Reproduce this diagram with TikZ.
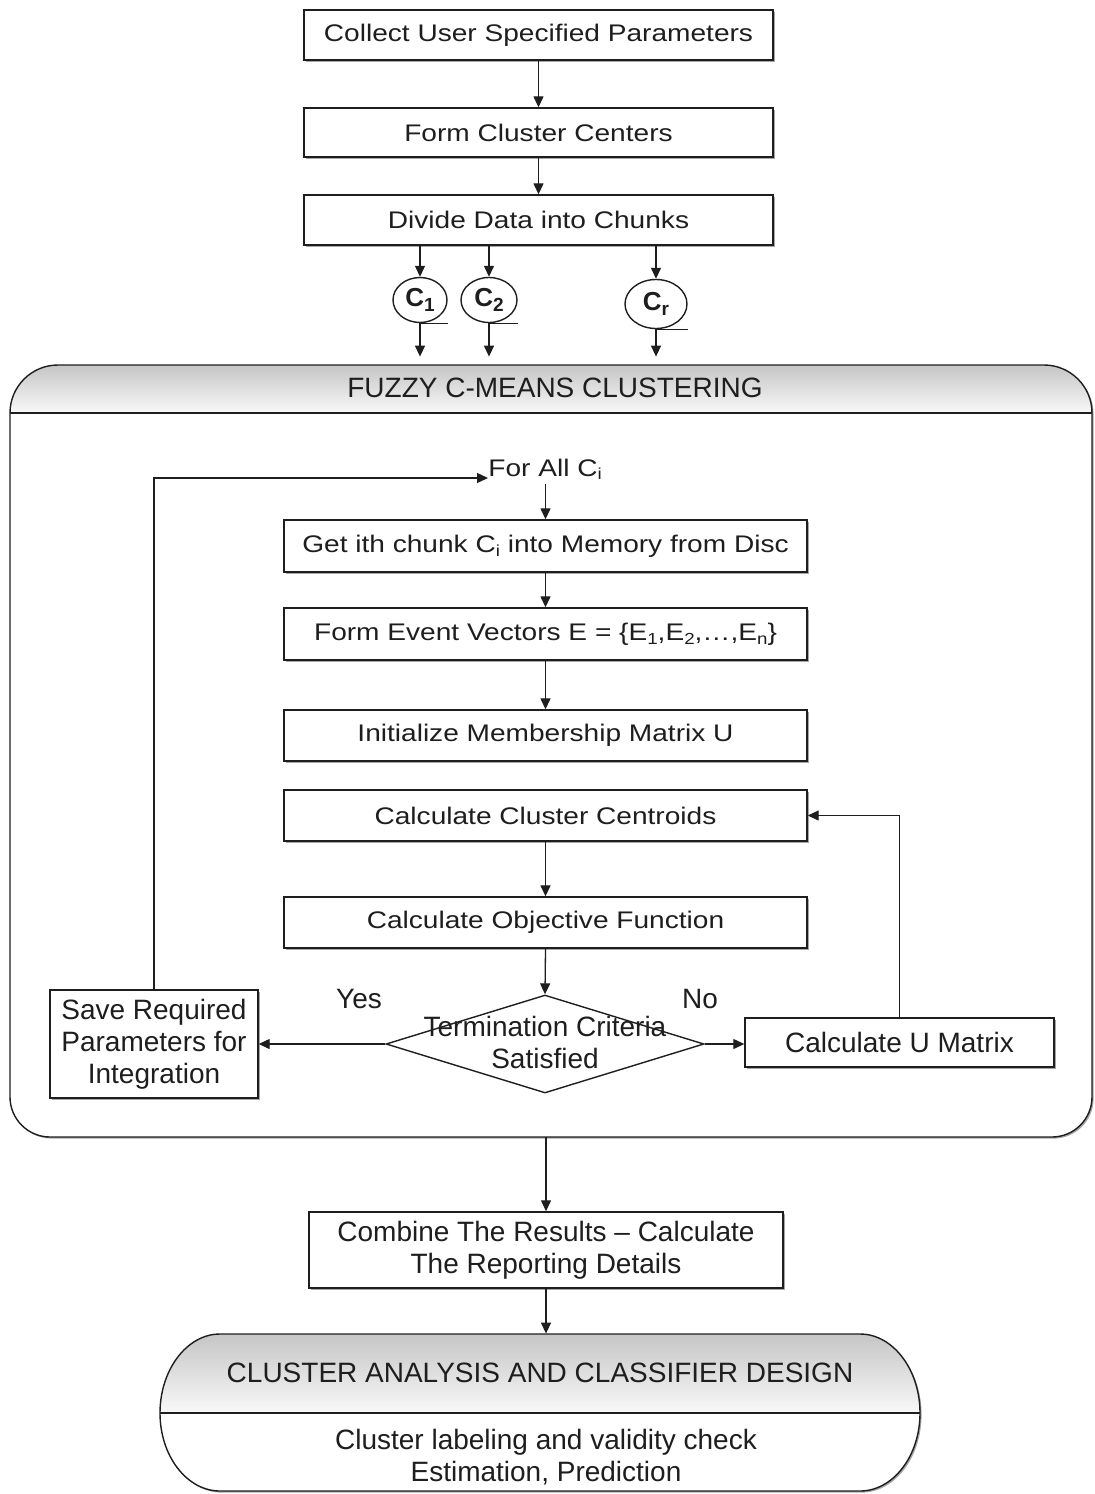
\documentclass[tikz,border=0pt]{standalone}
\usepackage{fontspec}
\setmainfont{Liberation Sans}
\newfontfamily\widesans[FakeStretch=1.17]{Liberation Sans}
\usetikzlibrary{arrows.meta,shapes.geometric,fit,shadows}
\definecolor{ink}{HTML}{1E1E1E}
\newcommand\lowidx[1]{\raisebox{-0.3ex}{\fontsize{8}{8}\selectfont #1}}
\newcommand\tapeidx[1]{\raisebox{-0.35ex}{\fontsize{9.5}{9.5}\selectfont #1}}

\tikzset{
  inkline/.style={draw=ink, line width=0.7pt},
  arr/.style={draw=ink, line width=0.65pt, -{Triangle[length=5.5pt,width=5pt]}},
  box/.style={rectangle, draw=ink, line width=0.7pt, fill=white, inner sep=0pt,
    drop shadow={shadow xshift=0.8pt, shadow yshift=-0.8pt, fill=black, opacity=0.35}},
  size/.style 2 args={minimum width=#1, minimum height=#2},
  widetxt/.style={font=\widesans\fontsize{12}{14}\selectfont, text=ink, align=center},
  narrowtxt/.style={font=\fontsize{14}{16}\selectfont, text=ink, align=center},
  tape/.style={ellipse, draw=ink, line width=0.7pt, fill=white, inner sep=0pt,
    font=\bfseries\fontsize{13}{15}\selectfont, text=ink},
  headshade/.style={top color=gray!45, bottom color=gray!5},
}

\begin{document}
\begin{tikzpicture}[x=0.5pt,y=-0.5pt]
\useasboundingbox (0,0) rectangle (1095,1494);

% ---------- container: fuzzy c-means clustering ----------
\fill[black!35, shift={(1.6,1.6)}] (10,413) .. controls (10,386.5) and (31.5,365) .. (58,365)
  -- (1044,365) .. controls (1070.5,365) and (1092,386.5) .. (1092,413)
  -- (1092,1097) .. controls (1092,1119) and (1074,1137) .. (1052,1137)
  -- (50,1137) .. controls (28,1137) and (10,1119) .. (10,1097) -- cycle;
\fill[white] (10,413) .. controls (10,386.5) and (31.5,365) .. (58,365)
  -- (1044,365) .. controls (1070.5,365) and (1092,386.5) .. (1092,413)
  -- (1092,1097) .. controls (1092,1119) and (1074,1137) .. (1052,1137)
  -- (50,1137) .. controls (28,1137) and (10,1119) .. (10,1097) -- cycle;
\shade[headshade] (10,413) .. controls (10,386.5) and (31.5,365) .. (58,365)
  -- (1044,365) .. controls (1070.5,365) and (1092,386.5) .. (1092,413) -- cycle;
\draw[inkline] (10,413) -- (1092,413);
\draw[inkline] (10,413) .. controls (10,386.5) and (31.5,365) .. (58,365)
  -- (1044,365) .. controls (1070.5,365) and (1092,386.5) .. (1092,413)
  -- (1092,1097) .. controls (1092,1119) and (1074,1137) .. (1052,1137)
  -- (50,1137) .. controls (28,1137) and (10,1119) .. (10,1097) -- cycle;
\node[fit={(10,365) (1092,1137)}, inner sep=0pt] (fcm) {};
\node[narrowtxt] (fcmtitle) at (555,388) {FUZZY C-MEANS CLUSTERING};

% ---------- container: cluster analysis ----------
\fill[black!35, shift={(1.6,1.6)}] (160,1413) .. controls (160,1369.8) and (186.9,1334) .. (220,1334)
  -- (860,1334) .. controls (893.1,1334) and (920,1369.8) .. (920,1413)
  .. controls (920,1456) and (893.1,1491) .. (860,1491)
  -- (220,1491) .. controls (186.9,1491) and (160,1456) .. (160,1413) -- cycle;
\fill[white] (160,1413) .. controls (160,1369.8) and (186.9,1334) .. (220,1334)
  -- (860,1334) .. controls (893.1,1334) and (920,1369.8) .. (920,1413)
  .. controls (920,1456) and (893.1,1491) .. (860,1491)
  -- (220,1491) .. controls (186.9,1491) and (160,1456) .. (160,1413) -- cycle;
\shade[headshade] (160,1413) .. controls (160,1369.8) and (186.9,1334) .. (220,1334)
  -- (860,1334) .. controls (893.1,1334) and (920,1369.8) .. (920,1413) -- cycle;
\draw[inkline] (160,1413) -- (920,1413);
\draw[inkline] (160,1413) .. controls (160,1369.8) and (186.9,1334) .. (220,1334)
  -- (860,1334) .. controls (893.1,1334) and (920,1369.8) .. (920,1413)
  .. controls (920,1456) and (893.1,1491) .. (860,1491)
  -- (220,1491) .. controls (186.9,1491) and (160,1456) .. (160,1413) -- cycle;
\node[fit={(160,1334) (920,1491)}, inner sep=0pt] (cad) {};
\node[narrowtxt] (cadtitle) at (540,1373) {CLUSTER ANALYSIS AND CLASSIFIER DESIGN};
\node[narrowtxt] (cadbody) at (546,1457) {Cluster labeling and validity check\\Estimation, Prediction};

% ---------- preparation steps ----------
\node[box, widetxt, size={234.5pt}{25pt}] (collect) at (538.5,35) {Collect User Specified Parameters};
\node[box, widetxt, size={234.5pt}{24.5pt}] (centers) at (538.5,132.5) {Form Cluster Centers};
\node[box, widetxt, size={234.5pt}{25pt}] (divide) at (538.5,220) {Divide Data into Chunks};

\node[tape, minimum width=27pt, minimum height=22.5pt] (c1) at (420,300) {C\tapeidx{1}};
\node[tape, minimum width=28pt, minimum height=22.5pt] (c2) at (489,300) {C\tapeidx{2}};
\node[tape, minimum width=31pt, minimum height=24.5pt] (cr) at (656,304) {C\tapeidx{r}};
\foreach \c in {c1,c2,cr} {
  \draw[inkline] (\c.south) -- (\c.south -| \c.east);
  \draw[arr] (\c |- divide.south) -- (\c.north);
  \draw[arr, shorten >=4pt] (\c.south) -- (\c |- fcm.north);
}
\draw[arr] (collect.south) -- (centers.north);
\draw[arr] (centers.south) -- (divide.north);

% ---------- clustering loop ----------
\node[widetxt, anchor=base west, inner sep=0pt] (forall) at (488,476) {For All C\lowidx{i}};
\node[box, widetxt, size={261.5pt}{26pt}] (getchunk) at (545.5,546) {Get ith chunk C\lowidx{i} into Memory from Disc};
\node[box, widetxt, size={261.5pt}{26pt}] (events) at (545.5,634) {Form Event Vectors E = \{E\lowidx{1},E\lowidx{2},\dots,E\lowidx{n}\}};
\node[box, widetxt, size={261.5pt}{25.5pt}] (initu) at (545.5,735.5) {Initialize Membership Matrix U};
\node[box, widetxt, size={261.5pt}{25.5pt}] (centroids) at (545.5,815.5) {Calculate Cluster Centroids};
\node[box, widetxt, size={261.5pt}{25.5pt}] (objective) at (545.5,922.5) {Calculate Objective Function};
\node[diamond, draw=ink, line width=0.7pt, fill=white, inner sep=0pt,
      minimum width=159pt, minimum height=49pt] (term) at (545,1044) {};
\node[narrowtxt] (termtxt) at (545,1042) {Termination Criteria\\Satisfied};
\node[box, narrowtxt, size={104pt}{54pt}] (save) at (154,1044) {Save Required\\Parameters for\\Integration};
\node[box, narrowtxt, size={154.5pt}{24.5pt}] (calcu) at (899.5,1042.5) {Calculate U Matrix};
\node[narrowtxt] (yes) at (359,999) {Yes};
\node[narrowtxt] (no) at (700,999) {No};

\draw[arr, shorten <=2pt] (getchunk.north |- forall.south) -- (getchunk.north);
\draw[arr] (getchunk.south) -- (events.north);
\draw[arr] (events.south) -- (initu.north);
\draw[arr] (centroids.south) -- (objective.north);
\draw[arr] (objective.south) -- (term.north);
\draw[arr] (term.west) -- (term.west -| save.east);
\draw[arr] (term.east) -- (term.east -| calcu.west);
\draw[arr] (calcu.north) |- (centroids.east);
\draw[arr] (save.north) |- ([yshift=-1pt]forall.base west);

% ---------- reporting ----------
\node[box, narrowtxt, size={237pt}{38pt}] (combine) at (546,1250) {Combine The Results -- Calculate\\The Reporting Details};
\draw[arr] (combine.north |- fcm.south) -- (combine.north);
\draw[arr] (combine.south) -- (combine.south |- cad.north);
\end{tikzpicture}
\end{document}
